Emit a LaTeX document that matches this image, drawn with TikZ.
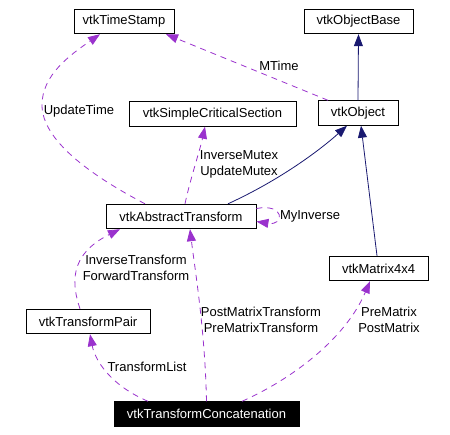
\documentclass[tikz,border=0pt]{standalone}
\usepackage{fontspec}
\setmainfont{Liberation Sans}
\usetikzlibrary{arrows.meta}
\definecolor{dorchid}{RGB}{154,50,205}
\definecolor{mblue}{RGB}{25,25,112}
\begin{document}
\begin{tikzpicture}[x=1pt,y=-1pt,
  font=\fontsize{13}{16}\selectfont,
  box/.style={draw=black,line width=0.9pt,inner sep=0pt,minimum height=24.5pt,anchor=center},
  lbl/.style={inner sep=0pt,align=center,anchor=center},
  inh/.style={draw=mblue,line width=0.8pt,-{Triangle[length=12pt,width=9pt,fill=mblue]}},
  use/.style={draw=dorchid,line width=0.8pt,dash pattern=on 6pt off 5pt,-{Triangle[length=12pt,width=9pt,fill=dorchid]}}]
\useasboundingbox (0,0) rectangle (450,434);
\node[box,minimum width=100pt] (ts) at (124,21.5) {vtkTimeStamp};
\node[box,minimum width=109pt] (ob) at (358.5,21.5) {vtkObjectBase};
\node[box,minimum width=167pt] (scs) at (212.5,114) {vtkSimpleCriticalSection};
\node[box,minimum width=80pt] (obj) at (358,113) {vtkObject};
\node[box,minimum width=150pt] (at) at (181,216.5) {vtkAbstractTransform};
\node[box,minimum width=99pt] (m44) at (378.5,268.5) {vtkMatrix4x4};
\node[box,minimum width=124pt] (tp) at (88,321.5) {vtkTransformPair};
\node[box,minimum width=185pt,fill=black,text=white] (tc) at (206.5,414) {vtkTransformConcatenation};
% inheritance
\draw[inh] (obj.north) -- (ob.south);
\draw[inh] ([xshift=47pt]at.north) .. controls (280,180) and (320,150) .. ([xshift=-11pt]obj.south);
\draw[inh] ([xshift=-1.5pt]m44.north) -- ([xshift=3pt]obj.south);
% usage
\draw[use] ([xshift=-30pt]obj.north) -- ([xshift=42pt]ts.south);
\node[lbl] (lmt) at (279,66) {MTime};
\draw[use] ([xshift=-36pt]at.north) .. controls (90,175) and (42,140) .. (42,105) .. controls (42,75) and (70,55) .. ([xshift=-24pt]ts.south);
\node[lbl] (lut) at (79,111) {UpdateTime};
\draw[use] ([xshift=4pt]at.north) .. controls (190,180) and (200,150) .. ([xshift=-7.5pt]scs.south);
\node[lbl] (lmx) at (239,164) {InverseMutex\\UpdateMutex};
\draw[use] ([yshift=8pt]at.east) .. controls (285,203) and (285,226) .. ([yshift=-5pt]at.east);
\node[lbl] (lmi) at (310,216) {MyInverse};
\draw[use] ([xshift=-8pt]tp.north) .. controls (72,285) and (68,255) .. ([xshift=-61pt]at.south);
\node[lbl] (lft) at (136,268) {InverseTransform\\ForwardTransform};
\draw[use] (tc.north) .. controls (205,330) and (195,270) .. ([xshift=9pt]at.south);
\node[lbl] (lpm) at (261,320) {PostMatrixTransform\\PreMatrixTransform};
\draw[use] ([xshift=-58.5pt]tc.north) .. controls (110,385) and (95,360) .. ([xshift=2pt]tp.south);
\node[lbl] (ltl) at (147,367) {TransformList};
\draw[use] ([xshift=35.5pt]tc.north) .. controls (290,380) and (345,340) .. ([xshift=-8.5pt]m44.south);
\node[lbl] (lpp) at (389,320) {PreMatrix\\PostMatrix};
\end{tikzpicture}
\end{document}
